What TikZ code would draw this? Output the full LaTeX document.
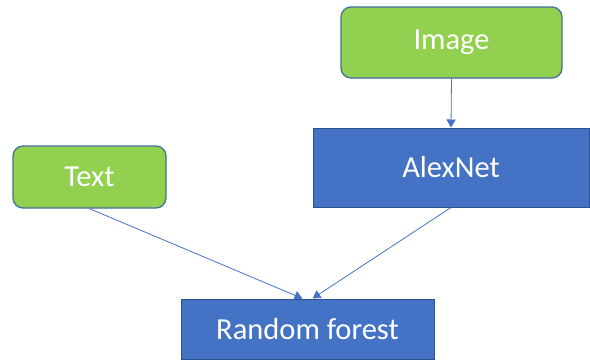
\documentclass[tikz,border=0pt]{standalone}
\usepackage{fontspec}
\setmainfont{Carlito}
\usetikzlibrary{arrows.meta}
\definecolor{gfill}{HTML}{92D050}
\definecolor{gdraw}{HTML}{41719C}
\definecolor{bfill}{HTML}{4472C4}
\definecolor{bdraw}{HTML}{2F528F}
\begin{document}
\begin{tikzpicture}[x=1pt,y=-1pt,
  greenbox/.style={draw=gdraw,fill=gfill,line width=1.3pt,rounded corners=10pt,inner sep=0pt,text=white,font=\fontsize{30.5}{34}\selectfont},
  bluebox/.style={draw=bdraw,fill=bfill,line width=1pt,inner sep=0pt,text=white,font=\fontsize{30.5}{34}\selectfont},
  conn/.style={draw=bfill,line width=0.8pt,-{Triangle[width=9pt,length=8pt]}}]
\useasboundingbox (0,0) rectangle (590,362);
\node[greenbox,minimum width=221pt,minimum height=71pt] (image) at (451.5,42.5) {Image};
\node[bluebox,minimum width=276pt,minimum height=79pt] (alex) at (451,167.5) {AlexNet};
\node[greenbox,minimum width=153pt,minimum height=62pt] (text) at (89.5,177) {Text};
\node[bluebox,minimum width=253pt,minimum height=60pt] (rf) at (307.5,329) {Random forest};
\draw[conn] (image.south) -- (alex.north);
\draw[conn] (text.south) -- ([xshift=-5pt]rf.north);
\draw[conn] (alex.south) -- ([xshift=5pt]rf.north);
\end{tikzpicture}
\end{document}
